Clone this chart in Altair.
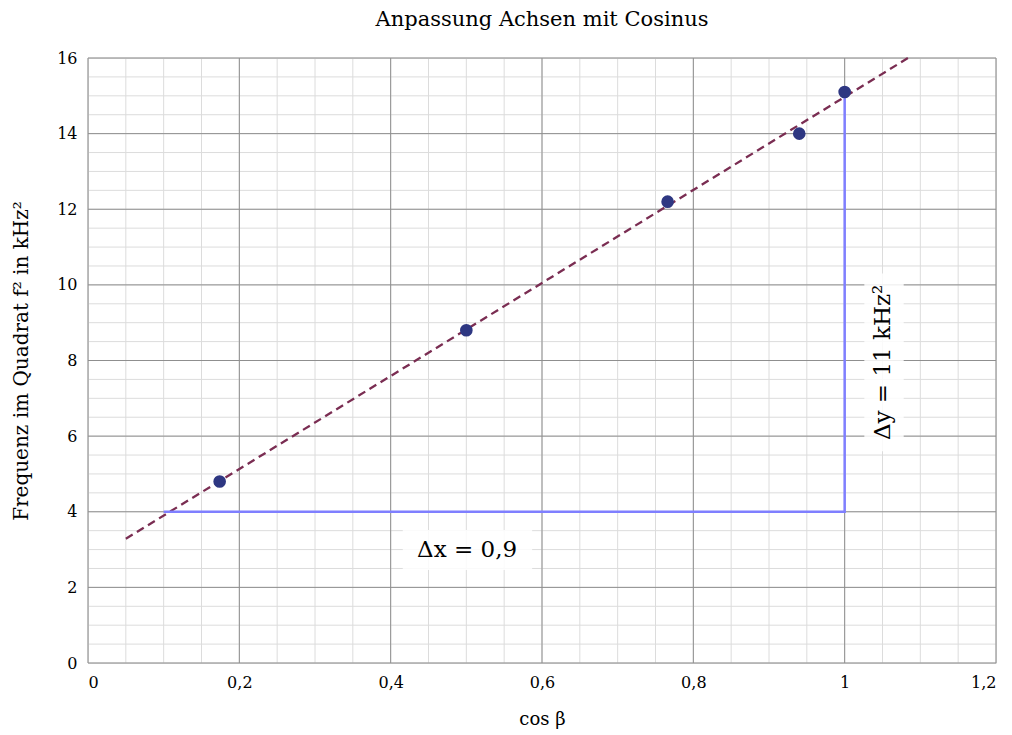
import altair as alt
import pandas as pd

# Measured points
cos_beta = [0.174, 0.5, 0.766, 0.94, 1.0]
f_squared = [4.8, 8.8, 12.2, 14.0, 15.1]

# Fit line endpoints
fit_x = [0.05, 1.0837]
fit_y = [3.285, 16.0]

# Slope triangle
tri_x = [0.1, 1.0, 1.0]
tri_y = [4.0, 4.0, 15.1]

# Grid positions
x_major = [0, 0.2, 0.4, 0.6, 0.8, 1.0, 1.2]
y_major = [0, 2, 4, 6, 8, 10, 12, 14, 16]
x_minor = [round(i * 0.05, 2) for i in range(25)]
y_minor = [i * 0.5 for i in range(33)]

FONT = "DejaVu Serif"

pts = pd.DataFrame({"x": cos_beta, "y": f_squared})
fit = pd.DataFrame({"x": fit_x, "y": fit_y})
tri = pd.DataFrame({"x": tri_x, "y": tri_y, "o": [0, 1, 2]})

xs = alt.Scale(domain=[0, 1.2], nice=False, zero=False)
ys = alt.Scale(domain=[0, 16], nice=False, zero=False)

lab_expr = "replace(format(datum.value, '~g'), '.', ',')"

x_axis = alt.Axis(values=x_major, grid=False, ticks=False, domain=False,
                  labelExpr=lab_expr, title="cos β", labelFont=FONT, titleFont=FONT,
                  labelFontSize=16, titleFontSize=18, titleFontWeight="normal",
                  labelColor="black", titleColor="black", labelPadding=11, titlePadding=20)
y_axis = alt.Axis(values=y_major, grid=False, ticks=False, domain=False,
                  labelExpr=lab_expr, title="Frequenz im Quadrat f² in kHz²",
                  labelFont=FONT, titleFont=FONT, labelFontSize=16, titleFontSize=20,
                  titleFontWeight="normal", labelColor="black", titleColor="black",
                  labelPadding=11, titlePadding=25)

minor_v = alt.Chart(pd.DataFrame({"x": x_minor})).mark_rule(color="#dcdcdc", strokeWidth=1).encode(
    x=alt.X("x:Q", scale=xs, axis=x_axis))
minor_h = alt.Chart(pd.DataFrame({"y": y_minor})).mark_rule(color="#dcdcdc", strokeWidth=1).encode(
    y=alt.Y("y:Q", scale=ys, axis=y_axis))
major_v = alt.Chart(pd.DataFrame({"x": x_major})).mark_rule(color="#8f8f8f", strokeWidth=1).encode(
    x=alt.X("x:Q", scale=xs))
major_h = alt.Chart(pd.DataFrame({"y": y_major})).mark_rule(color="#8f8f8f", strokeWidth=1).encode(
    y=alt.Y("y:Q", scale=ys))

fit_line = alt.Chart(fit).mark_line(color="#7a2d52", strokeWidth=2.3, strokeDash=[8, 5]).encode(
    x=alt.X("x:Q", scale=xs), y=alt.Y("y:Q", scale=ys))

tri_line = alt.Chart(tri).mark_line(color="#7f7fff", strokeWidth=2.5).encode(
    x=alt.X("x:Q", scale=xs), y=alt.Y("y:Q", scale=ys), order="o:Q")

points = alt.Chart(pts).mark_circle(color="#2e3782", size=160, opacity=1).encode(
    x=alt.X("x:Q", scale=xs), y=alt.Y("y:Q", scale=ys))

# label boxes
boxes = pd.DataFrame({"x": [0.416, 1.026], "x2": [0.587, 1.078],
                      "y": [2.46, 5.6], "y2": [3.52, 10.3]})
box = alt.Chart(boxes).mark_rect(color="white", opacity=0.85).encode(
    x=alt.X("x:Q", scale=xs), x2="x2:Q", y=alt.Y("y:Q", scale=ys), y2="y2:Q")

dx_text = alt.Chart(pd.DataFrame({"x": [0.501], "y": [2.99], "t": ["Δx = 0,9"]})).mark_text(
    font=FONT, fontSize=23, color="black", align="center", baseline="middle").encode(
    x=alt.X("x:Q", scale=xs), y=alt.Y("y:Q", scale=ys), text="t:N")

dy_text = alt.Chart(pd.DataFrame({"x": [1.051], "y": [7.95], "t": ["Δy = 11 kHz²"]})).mark_text(
    font=FONT, fontSize=23, color="black", align="center", baseline="middle", angle=270).encode(
    x=alt.X("x:Q", scale=xs), y=alt.Y("y:Q", scale=ys), text="t:N")

chart = alt.layer(minor_v, minor_h, major_v, major_h, fit_line, tri_line, points,
                  box, dx_text, dy_text).properties(
    width=908, height=605,
    autosize=alt.AutoSizeParams(type="none"),
    padding={"left": 88, "top": 58, "right": 16, "bottom": 72},
    title=alt.Title("Anpassung Achsen mit Cosinus", font=FONT, fontSize=21,
                    fontWeight="normal", color="black", anchor="middle", offset=20),
).configure_view(stroke="black", strokeWidth=1.5).configure(background="white")

chart.save("out.html", embed_options={"renderer": "svg", "actions": False})
